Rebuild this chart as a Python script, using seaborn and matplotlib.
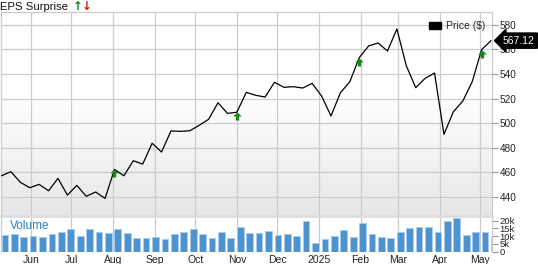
import numpy as np
import pandas as pd
import matplotlib
matplotlib.use("Agg")
import matplotlib.pyplot as plt
import matplotlib.dates as mdates
from matplotlib.path import Path
from matplotlib.patches import Patch
from matplotlib.transforms import ScaledTranslation
from matplotlib.colors import LinearSegmentedColormap
import seaborn as sns

# ---------------- data ----------------
week_dates = pd.date_range("2024-05-10", "2025-05-09", freq="7D")
price = [457.3, 460.6, 452.0, 447.6, 450.3, 445.1, 455.2, 441.6, 449.5, 440.6,
         444.1, 438.9, 462.5, 457.3, 469.5, 466.8, 483.7, 476.6, 493.7, 493.4,
         493.9, 498.3, 503.2, 516.7, 508.0, 508.9, 525.1, 522.7, 521.3, 533.3,
         529.2, 529.7, 528.6, 532.4, 522.1, 505.9, 524.8, 533.7, 553.3, 562.8,
         565.2, 558.7, 576.6, 546.7, 528.9, 536.5, 540.8, 491.0, 509.3, 518.0,
         533.7, 559.8, 567.12]
volume_k = [10.8, 11.6, 9.5, 10.3, 9.7, 11.2, 12.7, 14.6, 10.3, 14.4,
            12.6, 12.3, 14.7, 12.3, 9.0, 8.9, 9.2, 8.3, 11.4, 12.7,
            14.6, 11.5, 8.6, 12.5, 9.1, 16.2, 12.2, 12.2, 13.3, 10.5,
            11.6, 10.3, 20.0, 5.8, 8.4, 10.1, 13.8, 9.2, 18.3, 11.6,
            9.5, 9.0, 12.7, 15.3, 15.7, 15.9, 12.7, 19.6, 21.7, 10.8,
            12.7, 12.7, 9.5]
eps_beat_idx = [12, 25, 38, 51]
month_ticks = pd.date_range("2024-06-01", "2025-05-01", freq="MS")
month_labels = ["Jun", "Jul", "Aug", "Sep", "Oct", "Nov", "Dec", "2025",
                "Feb", "Mar", "Apr", "May"]
price_ticks = [440, 460, 480, 500, 520, 540, 560, 580]
vol_ticks = [0, 5, 10, 15, 20]
vol_labels = ["0", "5k", "10k", "15k", "20k"]
last_label = "567.12"

df = pd.DataFrame({"date": week_dates, "price": price, "volume": volume_k})

# ---------------- style ----------------
sns.set_style("white")
plt.rcParams["font.family"] = ["Liberation Sans", "DejaVu Sans"]

W, H = 538, 264
fig = plt.figure(figsize=(W / 100, H / 100), dpi=100)

def fx(px):
    return px / W

def fy(py):
    return 1 - py / H

left, right = 0.5, 491.7
top_p, bot_p, bot_v = 12, 216, 251.7
ax = fig.add_axes([fx(left), fy(bot_p), fx(right - left), fy(top_p) - fy(bot_p)])
axv = fig.add_axes([fx(left), fy(bot_v), fx(right - left), fy(bot_p) - fy(bot_v)])

xmin = week_dates[0] - pd.Timedelta(days=0.75)
xmax = week_dates[-1] + pd.Timedelta(days=0.5)

grid_c = "#cccccc"

# gradient background for price panel
cmap = LinearSegmentedColormap.from_list("bg", ["#e7e7e7", "#ffffff"])
grad = np.linspace(0, 1, 200).reshape(-1, 1)
grad = np.clip(grad / 0.6, 0, 1)
ax.imshow(grad, cmap=cmap, aspect="auto", extent=[0, 1, 1, 0],
          transform=ax.transAxes, zorder=0, vmin=0, vmax=1)

# price line
sns.lineplot(data=df, x="date", y="price", ax=ax, color="black", lw=0.9,
             zorder=3, legend=False)

# EPS beat arrows
arrow_path = Path([(-1, 0.1), (0, 1), (1, 0.1), (0.4, 0.1), (0.4, -1),
                   (-0.4, -1), (-0.4, 0.1), (-1, 0.1)],
                  [Path.MOVETO] + [Path.LINETO] * 6 + [Path.CLOSEPOLY])
shift = ax.transData + ScaledTranslation(0, -0.04, fig.dpi_scale_trans)
ax.plot(df["date"].iloc[eps_beat_idx], df["price"].iloc[eps_beat_idx],
        ls="none", marker=arrow_path, ms=5.3, color="#118a11", mec="#118a11",
        mew=0.3, transform=shift, zorder=4)

ax.set_xlim(xmin, xmax)
ax.set_ylim(424.6, 590.4)
ax.set_xticks(month_ticks)
ax.set_xticklabels([])
ax.set_yticks(price_ticks)
ax.yaxis.tick_right()
ax.tick_params(axis="y", which="both", length=4, color="#999999", width=0.8,
               labelsize=7.2, pad=1.5, labelcolor="#222222")
ax.tick_params(axis="x", length=0)
ax.grid(True, color=grid_c, lw=0.9)
ax.set_axisbelow(False)
for ln in ax.get_xgridlines() + ax.get_ygridlines():
    ln.set_zorder(1)
ax.set_xlabel("")
ax.set_ylabel("")
for s in ["top", "right", "left"]:
    ax.spines[s].set_color(grid_c)
    ax.spines[s].set_linewidth(0.9)
ax.spines["bottom"].set_visible(False)

# legend
h = Patch(facecolor="black", edgecolor="black")
leg = ax.legend([h], ["Price ($)"], loc="upper right", frameon=False,
                fontsize=7.5, handlelength=1.1, handleheight=0.55,
                handletextpad=0.5, bbox_to_anchor=(1.0, 0.985),
                borderaxespad=0.2)

# last price tag
ax.annotate(last_label, xy=(1.0, price[-1]),
            xycoords=("axes fraction", "data"), xytext=(8, 0),
            textcoords="offset points", ha="left", va="center",
            fontsize=7.5, color="white", zorder=10, annotation_clip=False,
            bbox=dict(boxstyle="larrow,pad=0.25", fc="black", ec="black"))

# volume
axv.set_facecolor("white")
axv.bar(df["date"], df["volume"], width=5.0, align="edge",
        color="#4d93cf", edgecolor="#a8cdee", linewidth=0.7, zorder=2)
axv.set_xlim(xmin, xmax)
axv.set_ylim(0, 23.0)
axv.set_xticks(month_ticks)
axv.set_xticklabels(month_labels)
axv.tick_params(axis="x", length=0, labelsize=7.5, pad=2.5,
                labelcolor="#222222")
axv.set_yticks(vol_ticks)
axv.set_yticklabels(vol_labels)
axv.yaxis.tick_right()
axv.tick_params(axis="y", length=4, color="#999999", width=0.8,
                labelsize=6.8, pad=1.5, labelcolor="#222222")
axv.grid(True, axis="x", color=grid_c, lw=0.9, zorder=0)
axv.grid(False, axis="y")
axv.set_axisbelow(True)
for s in ["left", "right"]:
    axv.spines[s].set_color(grid_c)
    axv.spines[s].set_linewidth(0.9)
axv.spines["bottom"].set_visible(False)
axv.spines["top"].set_color("#dddddd")
axv.spines["top"].set_linewidth(2.0)
axv.text(0.02, 0.72, "Volume", transform=axv.transAxes, fontsize=8.5,
         color="#2b7fc3", va="center", ha="left", zorder=5)

# header
fig.text(fx(0), fy(6.5), "EPS Surprise", fontsize=8.2, va="center",
         ha="left", color="#111111")
fig.text(fx(72.5), fy(6.0), "\u2191", fontsize=8.5, va="center", ha="left",
         color="#118a11", fontweight="bold", family="DejaVu Sans")
fig.text(fx(82), fy(6.0), "\u2193", fontsize=8.5, va="center", ha="left",
         color="#e01010", fontweight="bold", family="DejaVu Sans")

fig.savefig("out.png", dpi=100)
